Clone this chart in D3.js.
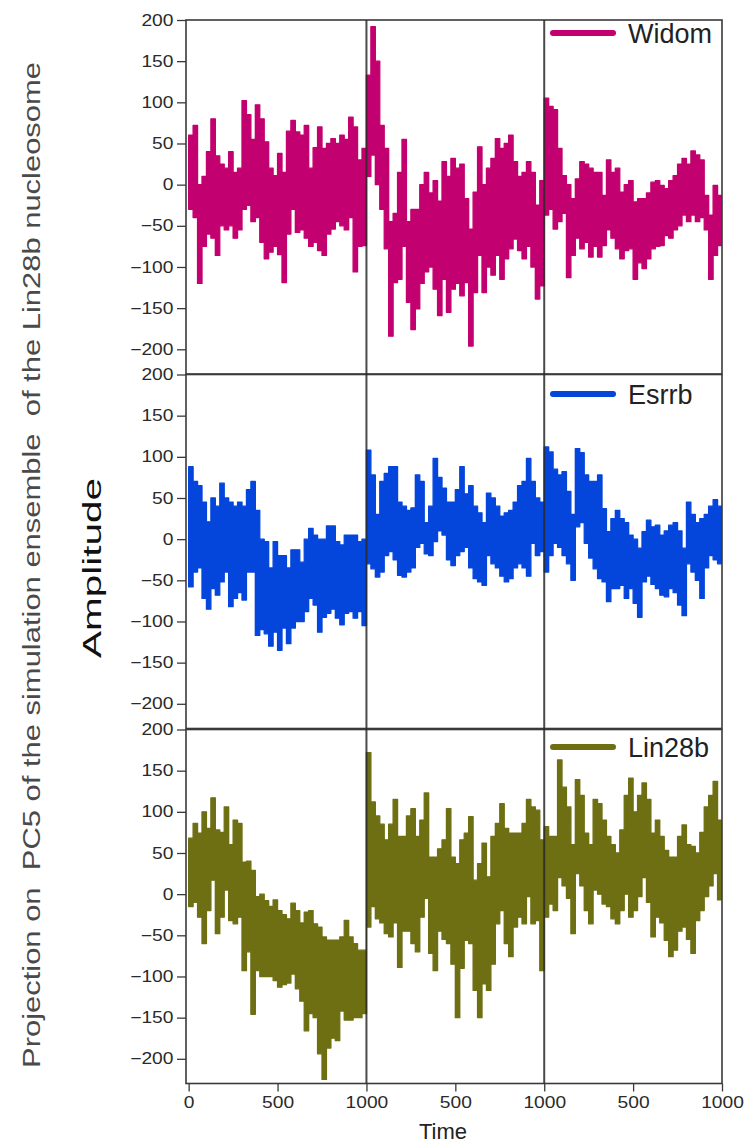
<!DOCTYPE html>
<html>
<head>
<meta charset="utf-8">
<script src="https://cdn.jsdelivr.net/npm/d3@7"></script>
<style>
  html, body { margin: 0; padding: 0; background: #fff; }
  svg { display: block; }
  text { font-family: "Liberation Sans", Arial, Helvetica, sans-serif; }
</style>
</head>
<body>
<svg id="chart" width="745" height="1144"></svg>
<script>
// ---- data -------------------------------------------------------------
// Three simulation runs (1000 time units each) per system, concatenated.
// Each run is stored as the local high and local low of the PC5
// projection within consecutive 25-unit windows.
const sampleStep = 25;
const runLength = 1000;
const runCount = 3;

const seriesNames = ["Widom", "Esrrb", "Lin28b"];

const widomHigh = [
  60, 72, 0, 10, 40, 80, 35, 25, 20, 40, 15, 20, 102, 85, 55, 97, 80, 52, 20, 11,
  38, 15, 65, 78, 64, 60, 72, 20, 45, 70, 44, 50, 56, 50, 60, 55, 82, 70, 30, 44,
  133, 192, 150, 72, 44, -45, -35, 15, 55, -45, -30, -30, 0, 15, -10, 5, -20, 28, 10, 32,
  20, 25, -17, -54, -9, 46, 0, 20, 32, 56, 44, 50, 60, 28, 10, 15, 28, 15, -25, 5,
  105, 95, 91, 44, 11, 0, -17, 7, 28, 25, 20, 15, 15, -13, 30, 15, 20, -9, 0, 5,
  -21, -17, -17, -10, 3, 5, -1, -5, 5, 11, 25, 32, 25, 41, 36, 30, -13, -37, -1, -13
];
const widomLow = [
  -30, -40, -120, -75, -60, -65, -86, -50, -55, -50, -65, -55, -30, -25, -45, -40, -70, -90, -82, -75,
  -85, -119, -60, -30, -58, -55, -65, -75, -70, -80, -86, -60, -54, -45, -50, -55, -40, -106, -75, -74,
  10, 36, 0, -30, -78, -184, -119, -115, -75, -143, -176, -151, -120, -106, -100, -127, -159, -115, -155, -127,
  -120, -135, -119, -196, -131, -86, -131, -100, -110, -86, -115, -90, -78, -66, -80, -90, -75, -100, -139, -123,
  -37, -30, -54, -45, -35, -113, -86, -65, -78, -70, -88, -75, -88, -74, -55, -65, -78, -90, -80, -78,
  -115, -95, -102, -90, -78, -75, -74, -62, -65, -55, -50, -37, -45, -37, -45, -40, -55, -115, -86, -74
];

const esrrbHigh = [
  88, 70, 65, 45, 21, 50, 40, 68, 50, 45, 40, 45, 40, 60, 70, 35, 0, -3, -35, -3,
  -20, -20, -35, -13, -13, -28, 0, 13, 5, 0, 0, 16, 16, -3, -7, 5, 5, 5, -3, 0,
  108, 78, 30, 70, 80, 88, 88, 45, 40, 35, 38, 78, 70, 20, 40, 98, 75, 62, 45, 45,
  60, 88, 55, 65, 40, 32, 20, 56, 50, 40, 28, 32, 35, 45, 65, 70, 98, 70, 50, 45,
  112, 106, 85, 78, 82, 58, 30, 110, 105, 78, 70, 70, 78, 37, 9, 25, 35, 25, 20, 5,
  0, -11, 9, 23, 15, 17, 5, 10, 17, 20, 10, -11, 45, 30, 20, 25, 30, 40, 48, 40
];
const esrrbLow = [
  -58, -40, -35, -72, -85, -60, -68, -52, -40, -82, -72, -65, -74, -40, -40, -117, -110, -115, -130, -113,
  -135, -108, -127, -108, -100, -100, -88, -72, -80, -113, -95, -90, -85, -96, -104, -90, -88, -96, -88, -105,
  -30, -36, -46, -40, -20, -15, -25, -44, -46, -40, -35, -10, -5, -18, -20, -3, 10, 5, -25, -32,
  -20, -15, -10, -35, -48, -52, -56, -20, -30, -35, -45, -52, -48, -35, -30, -35, -45, -5, -20, -15,
  -40, -20, -5, -10, -20, -30, -50, 15, 20, -5, -23, -36, -48, -52, -76, -60, -60, -56, -72, -60,
  -78, -95, -52, -45, -55, -60, -68, -70, -60, -65, -80, -93, -30, -40, -50, -72, -35, -20, -25, -30
];

const lin28bHigh = [
  68, 86, 74, 100, 80, 117, 78, 75, 106, 60, 90, 86, 39, 40, 29, -3, 0, -8, -15, -7,
  -20, -25, -30, -11, -20, -35, -22, -20, -36, -40, -52, -56, -56, -56, -52, -32, -52, -60, -68, -68,
  172, 112, 95, 85, 66, 85, 115, 70, 70, 95, 104, 70, 90, 123, 45, 45, 55, 66, 104, 45,
  37, 66, 74, 94, 17, 37, 62, 21, 70, 86, 110, 80, 74, 74, 74, 86, 115, 106, 102, 66,
  82, 70, 70, 163, 130, 106, 60, 139, 120, 74, 60, 115, 110, 90, 70, 60, 50, 78, 120, 141,
  100, 120, 135, 115, 74, 90, 70, 53, 45, 45, 70, 84, 60, 58, 50, 75, 106, 120, 137, 90
];
const lin28bLow = [
  -15, -10, -28, -60, -20, 17, -48, -28, 5, -32, -36, -28, -93, -70, -146, -93, -100, -100, -100, -105,
  -113, -110, -108, -97, -115, -130, -166, -145, -150, -194, -225, -187, -175, -178, -142, -153, -153, -150, -150, -145,
  -40, -15, -30, -35, -48, -52, -35, -89, -45, -45, -60, -70, -28, -5, -72, -93, -45, -55, -60, -85,
  -150, -90, -56, -60, -117, -150, -109, -117, -85, -36, -20, -60, -76, -40, -28, -36, -3, -36, -32, -93,
  -28, -12, -20, 20, 10, -5, -48, 25, 10, -20, -36, 5, 0, -12, -15, -30, -36, -20, 0, -28,
  -20, -3, 20, -10, -52, -28, -35, -56, -76, -68, -45, -40, -55, -72, -32, -20, -3, 10, 25, -7
];

const yTicks = [-200, -150, -100, -50, 0, 50, 100, 150, 200];
const timeTicks = [0, 500, 1000, 1500, 2000, 2500, 3000];
const timeTickLabels = ["0", "500", "1000", "500", "1000", "500", "1000"];
const runBoundaries = [1000, 2000];

// ---- styling / layout -------------------------------------------------
const colors = { Widom: "#c3006f", Esrrb: "#0446dc", Lin28b: "#6d6f12" };
const panelTops = [20, 374.5, 729.5];
const panelHeight = 354;
const legendYs = [33, 394, 747];
const plotLeft = 186, plotRight = 722;

const svg = d3.select("#chart");
const x = d3.scaleLinear().domain([-15, 3000]).range([plotLeft, plotRight]);

// One record per 25-unit window: its start time, high and low.
// The final window is held until the end of the last run.
function toWindows(high, low) {
  const perRun = runLength / sampleStep;
  const rows = high.map((h, i) => ({
    t: Math.floor(i / perRun) * runLength + (i % perRun) * sampleStep,
    hi: h,
    lo: low[i]
  }));
  const last = rows[rows.length - 1];
  rows.push({ t: runCount * runLength, hi: last.hi, lo: last.lo });
  return rows;
}

const series = [
  { name: seriesNames[0], high: widomHigh, low: widomLow },
  { name: seriesNames[1], high: esrrbHigh, low: esrrbLow },
  { name: seriesNames[2], high: lin28bHigh, low: lin28bLow }
];

const defs = svg.append("defs");

series.forEach((s, k) => {
  const top = panelTops[k];
  const y = d3.scaleLinear().domain([-230, 200]).range([top + panelHeight, top]);
  const g = svg.append("g").attr("class", "panel");

  defs.append("clipPath").attr("id", "clip" + k)
    .append("rect")
    .attr("x", plotLeft).attr("y", top)
    .attr("width", plotRight - plotLeft).attr("height", panelHeight);

  // dense trace: the band swept by the signal within each window
  const band = d3.area()
    .x(d => x(d.t))
    .y0(d => y(d.lo))
    .y1(d => y(d.hi))
    .curve(d3.curveStepAfter);

  g.append("path")
    .datum(toWindows(s.high, s.low))
    .attr("clip-path", `url(#clip${k})`)
    .attr("d", band)
    .attr("fill", colors[s.name])
    .attr("stroke", colors[s.name])
    .attr("stroke-width", 1.3)
    .attr("stroke-linejoin", "round");

  // panel frame
  g.append("rect")
    .attr("x", plotLeft).attr("y", top)
    .attr("width", plotRight - plotLeft).attr("height", panelHeight)
    .attr("fill", "none").attr("stroke", "#3a3a3a").attr("stroke-width", 1.6);

  // left axis
  const yAxis = g.append("g")
    .attr("transform", `translate(${plotLeft},0)`)
    .call(d3.axisLeft(y).tickValues(yTicks).tickSize(9).tickPadding(3).tickFormat(d3.format("d")));
  yAxis.select(".domain").remove();
  yAxis.selectAll(".tick line").attr("stroke", "#3a3a3a").attr("stroke-width", 1.3);
  yAxis.selectAll(".tick text")
    .attr("fill", "#2a2a2a")
    .style("font-size", "16px")
    .attr("x", -10.5)
    .attr("transform", "scale(1.2,1)");

  // legend
  const lx1 = 553, lx2 = 613, ly = legendYs[k];
  g.append("line")
    .attr("x1", lx1).attr("x2", lx2).attr("y1", ly).attr("y2", ly)
    .attr("stroke", colors[s.name]).attr("stroke-width", 6)
    .attr("stroke-linecap", "round");
  g.append("text")
    .attr("x", lx2 + 15).attr("y", ly + 10)
    .attr("fill", "#222")
    .style("font-size", "27px")
    .text(s.name);
});

// run boundaries spanning all panels
svg.append("g").selectAll("line")
  .data(runBoundaries)
  .join("line")
  .attr("x1", d => x(d)).attr("x2", d => x(d))
  .attr("y1", panelTops[0]).attr("y2", panelTops[2] + panelHeight)
  .attr("stroke", "#2a2a2a").attr("stroke-width", 2).attr("stroke-opacity", 0.85);

// bottom time axis
const xAxisY = panelTops[2] + panelHeight;
const xAxis = svg.append("g")
  .attr("transform", `translate(0,${xAxisY})`)
  .call(d3.axisBottom(x).tickValues(timeTicks).tickSize(8).tickPadding(5)
    .tickFormat((d, i) => timeTickLabels[i]));
xAxis.select(".domain").remove();
xAxis.selectAll(".tick line").attr("stroke", "#3a3a3a").attr("stroke-width", 1.3);
xAxis.selectAll(".tick text")
  .attr("fill", "#2a2a2a")
  .style("font-size", "16px")
  .attr("transform", "scale(1.2,1)");

svg.append("text")
  .attr("x", 443).attr("y", 1139)
  .attr("text-anchor", "middle")
  .attr("fill", "#222")
  .style("font-size", "22px")
  .text("Time");

// axis titles
svg.append("text")
  .attr("transform", "translate(101,568) rotate(-90)")
  .attr("text-anchor", "middle")
  .attr("fill", "#111")
  .style("font-size", "25px")
  .attr("textLength", 180)
  .attr("lengthAdjust", "spacingAndGlyphs")
  .text("Amplitude");

svg.append("text")
  .attr("transform", "translate(40,565) rotate(-90)")
  .attr("text-anchor", "middle")
  .attr("fill", "#4a4a4a")
  .style("font-size", "23px")
  .style("white-space", "pre")
  .attr("textLength", 1006)
  .attr("lengthAdjust", "spacingAndGlyphs")
  .text("Projection on  PC5 of the simulation ensemble  of the Lin28b nucleosome");
</script>
</body>
</html>
